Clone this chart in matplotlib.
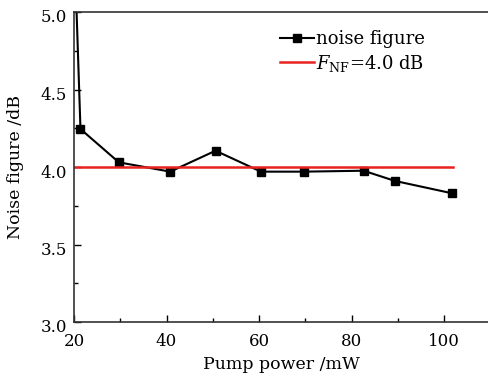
import matplotlib
matplotlib.use("Agg")
import matplotlib.pyplot as plt
from matplotlib.ticker import MultipleLocator, FormatStrFormatter
from matplotlib.transforms import ScaledTranslation

plt.rcParams['font.family'] = ['DejaVu Serif']
plt.rcParams['mathtext.fontset'] = 'dejavuserif'

pump_power = [20.0, 21.4, 29.7, 40.8, 50.6, 60.4, 69.7, 82.6, 89.4, 101.8]
noise_figure = [5.5, 4.245, 4.03, 3.97, 4.105, 3.97, 3.97, 3.976, 3.91, 3.83]
ref_x = [20.0, 102.0]
ref_y = [4.0, 4.0]

fig = plt.figure(figsize=(4.88, 3.77), dpi=100)
ax = fig.add_axes([74/488, 1-322/377, 1-74/488, (322-12)/377])

ax.plot(pump_power, noise_figure, color='black', lw=1.5, marker='s', ms=5.5,
        label='noise figure')
ax.plot(ref_x, ref_y, color='#e8221f', lw=1.8, label=r'$F_{\mathrm{NF}}$=4.0 dB')

ax.set_xlim(20, 109.5)
ax.set_ylim(3.0, 5.0)
ax.xaxis.set_major_locator(MultipleLocator(20))
ax.xaxis.set_minor_locator(MultipleLocator(10))
ax.yaxis.set_major_locator(MultipleLocator(0.5))
ax.yaxis.set_minor_locator(MultipleLocator(0.25))
ax.yaxis.set_major_formatter(FormatStrFormatter('%.1f'))
ax.tick_params(which='both', direction='in', labelsize=12, top=False, right=False)
ax.tick_params(which='major', length=5, width=1)
ax.tick_params(which='minor', length=3, width=1)
ax.tick_params(axis='x', which='major', pad=8)
ax.tick_params(axis='y', which='major', pad=5)
ax.spines['right'].set_visible(False)
for s in ['left', 'bottom', 'top']:
    ax.spines[s].set_linewidth(1.2)
    ax.spines[s].set_color('#333333')

for lab in ax.get_yticklabels():
    lab.set_transform(lab.get_transform() + ScaledTranslation(0, -4/100, fig.dpi_scale_trans))

ax.set_xlabel('Pump power /mW', fontsize=12.5, labelpad=4)
ax.set_ylabel('Noise figure /dB', fontsize=12.5, labelpad=12)

leg = ax.legend(loc='upper left', bbox_to_anchor=(0.48, 0.965), frameon=False,
                fontsize=13, handlelength=1.9, handletextpad=0.1,
                labelspacing=0.25, borderaxespad=0)

fig.savefig('out.png', dpi=100)
